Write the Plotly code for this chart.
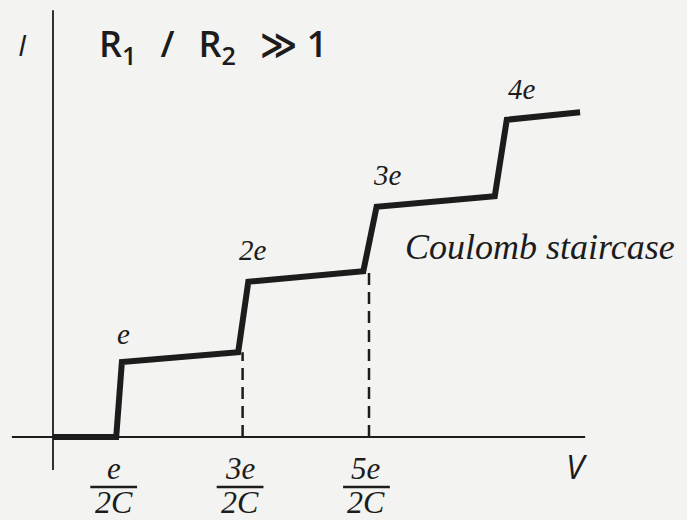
import plotly.graph_objects as go

# Coulomb staircase: bias voltage V (units of e/2C) and current I (arbitrary units)
V = [0.0, 1.0, 1.09, 2.93, 3.09, 4.91, 5.12, 6.99, 7.18, 8.34]
I = [0.0, 0.0, 1.00, 1.13, 2.07, 2.21, 3.07, 3.21, 4.23, 4.33]

# charge labels above each step
step_labels = ["e", "2e", "3e", "4e"]
step_label_V = [1.12, 3.16, 5.30, 7.42]
step_label_I = [1.37, 2.49, 3.49, 4.64]

# threshold voltages marked under the V axis (in units of e/2C)
tick_V = [1, 3, 5]
tick_num = ["e", "3e", "5e"]
tick_den = ["2C", "2C", "2C"]

# dashed guides from the axis up to the end of each plateau
dash_V = [3, 5]
dash_top = [1.13, 2.21]

# extents of the drawn axes
x_axis_span = [-0.65, 8.42]
y_axis_span = [-0.44, 5.69]

INK = "#1c1c1c"
BG = "#f3f3f1"
SERIF = "Liberation Serif, Times New Roman, serif"
SANS = "Open Sans, Noto Sans, DejaVu Sans, sans-serif"
GAP = "\u2002\u2009"

fig = go.Figure()

# axes
fig.add_trace(go.Scatter(x=x_axis_span, y=[0, 0], mode="lines",
                         line=dict(color=INK, width=2), hoverinfo="skip"))
fig.add_trace(go.Scatter(x=[0, 0], y=y_axis_span, mode="lines",
                         line=dict(color=INK, width=1.8), hoverinfo="skip"))

# dashed guides
for v, top in zip(dash_V, dash_top):
    fig.add_trace(go.Scatter(x=[v, v], y=[0, top], mode="lines",
                             line=dict(color=INK, width=2.5, dash="12px,7px"),
                             hoverinfo="skip"))

# staircase
fig.add_trace(go.Scatter(x=V, y=I, mode="lines",
                         line=dict(color=INK, width=6), hoverinfo="skip"))

annotations = []
for txt, x, y in zip(step_labels, step_label_V, step_label_I):
    annotations.append(dict(x=x, y=y, text=f"<i>{txt}</i>", showarrow=False,
                            font=dict(family=SERIF, size=29, color=INK)))

shapes = []
for v, num, den in zip(tick_V, tick_num, tick_den):
    annotations.append(dict(x=v - 0.04, y=0, yshift=-31, text=f"<i>{num}</i>", showarrow=False,
                            font=dict(family=SERIF, size=31, color=INK)))
    annotations.append(dict(x=v - 0.04, y=0, yshift=-65, text=f"<i>{den}</i>", showarrow=False,
                            font=dict(family=SERIF, size=32, color=INK)))
    shapes.append(dict(type="line", xref="x", yref="y", x0=v - 0.41, x1=v + 0.33,
                       y0=-0.667, y1=-0.667, line=dict(color=INK, width=2.5)))

title_text = f"R<sub>1</sub>{GAP}/{GAP}R<sub>2</sub>{GAP}≫ 1"

annotations += [
    dict(x=7.71, y=2.53, text="<i>Coulomb staircase</i>", showarrow=False,
         font=dict(family=SERIF, size=36, color=INK)),
    dict(x=-0.49, y=5.24, text="<i>I</i>", showarrow=False,
         font=dict(family=SANS, size=30, color=INK)),
    dict(x=0.70, y=5.22, xanchor="left", text=title_text,
         showarrow=False, font=dict(family=SANS, size=36, color=INK, weight=600)),
    dict(x=8.29, y=-0.39, text="<i>V</i>", showarrow=False,
         font=dict(family=SANS, size=33, color=INK)),
]

fig.update_layout(
    width=687, height=520,
    margin=dict(l=0, r=0, t=0, b=0),
    paper_bgcolor=BG, plot_bgcolor=BG,
    showlegend=False,
    xaxis=dict(range=[-0.8386, 10.0316], visible=False, fixedrange=True),
    yaxis=dict(range=[-1.1067, 5.8267], visible=False, fixedrange=True),
    annotations=annotations,
    shapes=shapes,
)

fig.write_html("out.html")
